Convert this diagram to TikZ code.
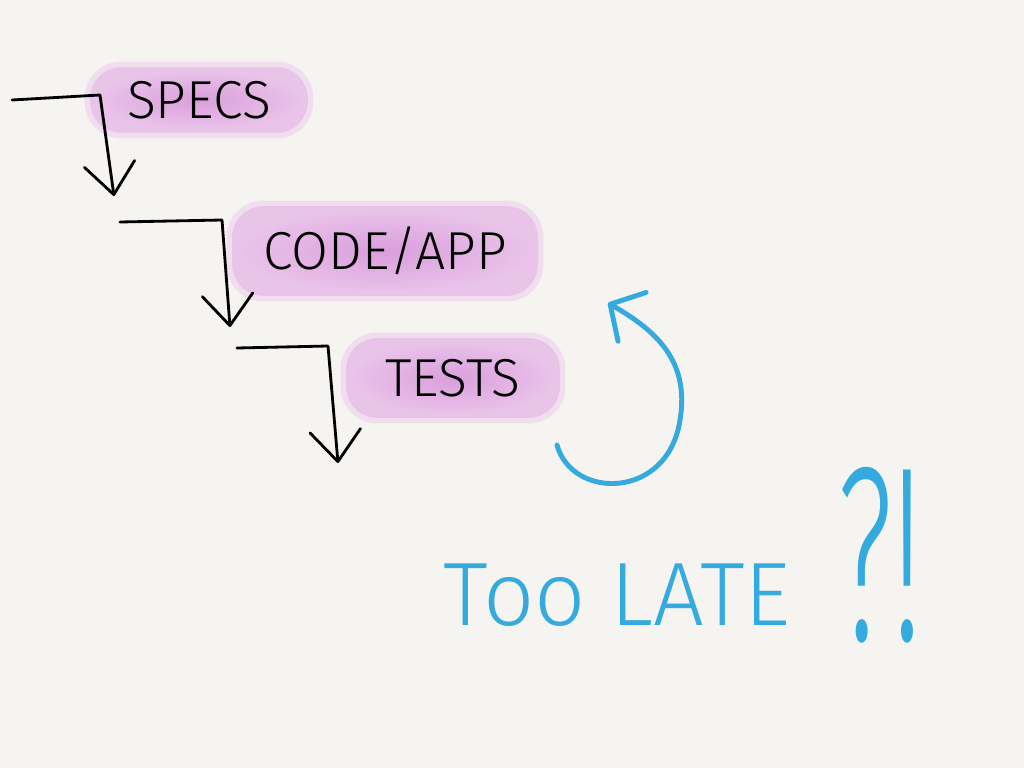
\documentclass[tikz,border=0pt]{standalone}
\usepackage{fontspec}
\newfontfamily\manofont{Fira Sans}[UprightFont=* Light]
\usetikzlibrary{arrows.meta,positioning}

\definecolor{carta}{RGB}{245,244,240}
\definecolor{viola}{RGB}{218,158,220}
\definecolor{violachiaro}{RGB}{233,196,233}
\definecolor{violaalone}{RGB}{240,222,239}
\definecolor{azzurro}{RGB}{52,170,222}

\tikzset{
  macchia/.style={shade, inner color=viola, outer color=violachiaro,
    draw=violachiaro, line width=4pt, rounded corners=20pt,
    preaction={draw=violaalone, line width=12pt},
    font=\manofont\fontsize{38}{38}\selectfont},
  scala/.style={line width=2pt, line cap=round, line join=round,
    -{Straight Barb[length=22pt,width=36pt,round]}},
  blu/.style={azzurro, line width=3.5pt, line cap=round},
}

\begin{document}
\begin{tikzpicture}[x=0.025cm, y=-0.025cm]

% --- Foglio ---
\fill[carta] (0,0) rectangle (1024,768);
\useasboundingbox (0,0) rectangle (1024,768);

% --- Macchie con le fasi ---
\node[macchia, minimum width=5.3cm, minimum height=1.5cm] (specs) at (199,100) {SPECS};
\node[macchia, minimum width=7.5cm, minimum height=2.1cm] (code) at (385,251) {CODE/APP};
\node[macchia, minimum width=5.2cm, minimum height=1.85cm] (tests) at (453,378) {TESTS};

% --- Gradini a cascata ---
\coordinate (in1) at (12,100);
\coordinate (gomito1) at (100,95);
\coordinate (fine1) at (114,196);
\draw[scala] (in1) -- (gomito1) -- (fine1);

\coordinate (in2) at (120,222);
\coordinate (gomito2) at (222,220);
\coordinate (fine2) at (230,327);
\draw[scala] (in2) -- (gomito2) -- (fine2);

\coordinate (in3) at (237,348);
\coordinate (gomito3) at (328,346);
\coordinate (fine3) at (338,463);
\draw[scala] (in3) -- (gomito3) -- (fine3);

% --- Freccia che torna indietro ---
\coordinate (coda) at (557,445);
\coordinate (punta) at (608,303);
\draw[blu, -{Straight Barb[length=18pt,width=40pt,round]}]
  (coda) .. controls (572,500) and (668,500) .. (680,420)
         .. controls (690,360) and (655,330) .. (punta);

% --- Scritta finale ---
\node[font=\manofont\fontsize{64}{64}\selectfont, text=azzurro, anchor=base] (late) at (617,625) {Too LATE};
\node[font=\manofont\fontsize{177}{177}\selectfont, text=azzurro, anchor=base] (bang) at (880,640) {\scalebox{0.5}[1]{?!}};

\end{tikzpicture}
\end{document}
